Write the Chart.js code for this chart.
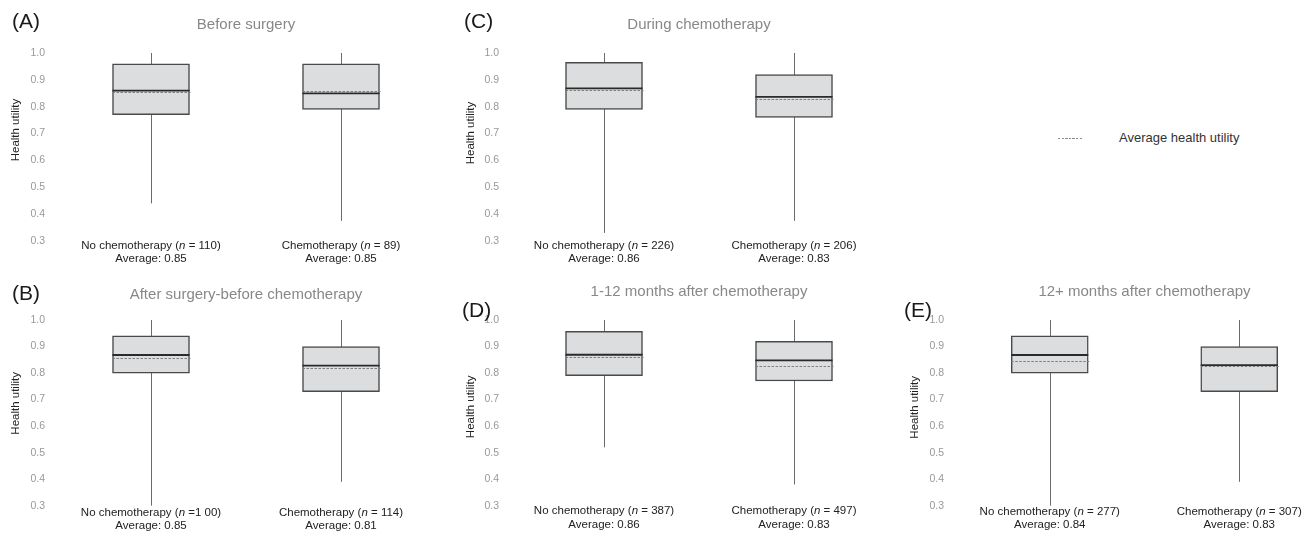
<!DOCTYPE html>
<html>
<head>
<meta charset="utf-8">
<script src="https://cdn.jsdelivr.net/npm/chart.js@4.4.0/dist/chart.umd.min.js"></script>
<style>
  html, body { margin: 0; padding: 0; overflow: hidden; background: #fff; }
  body { width: 1312px; height: 534px; position: relative; font-family: "Liberation Sans", Arial, sans-serif; }
  .panel { position: absolute; }
  .tag { position: absolute; font-size: 21px; line-height: 21px; color: #1a1a1a; }
  .legend { position: absolute; left: 1058px; top: 128px; height: 20px; }
  .legend .dash { position: absolute; left: 0; top: 10px; width: 25px; height: 1px;
    background: repeating-linear-gradient(90deg, #8c8c8c 0 2.5px, transparent 2.5px 3.6px); }
  .legend .txt { position: absolute; left: 61px; top: 2px; font-size: 13px; color: #333; white-space: nowrap; }
</style>
</head>
<body>
<div class="legend"><div class="dash"></div><div class="txt">Average health utility</div></div>
<script>
// data (panel order A..E)
const groupNames = ['No chemotherapy', 'Chemotherapy'];
const panelIds = ['A', 'B', 'C', 'D', 'E'];
const panelTitles = ['Before surgery', 'After surgery-before chemotherapy', 'During chemotherapy',
                     '1-12 months after chemotherapy', '12+ months after chemotherapy'];
const nText = [[' = 110', ' = 89'], [' =1 00', ' = 114'], [' = 226', ' = 206'], [' = 387', ' = 497'], [' = 277', ' = 307']];
const avgText = [['0.85', '0.85'], ['0.85', '0.81'], ['0.86', '0.83'], ['0.86', '0.83'], ['0.84', '0.83']];
const whiskerMax = [[1.0, 1.0], [1.0, 1.0], [1.0, 1.0], [1.0, 1.0], [1.0, 1.0]];
const boxQ3 = [[0.96, 0.96], [0.94, 0.90], [0.965, 0.92], [0.957, 0.92], [0.94, 0.90]];
const medians = [[0.86, 0.85], [0.868, 0.828], [0.868, 0.837], [0.869, 0.848], [0.868, 0.83]];
const means = [[0.855, 0.86], [0.856, 0.818], [0.862, 0.828], [0.86, 0.825], [0.845, 0.825]];
const boxQ1 = [[0.77, 0.79], [0.80, 0.73], [0.79, 0.76], [0.79, 0.77], [0.80, 0.73]];
const whiskerMin = [[0.44, 0.375], [0.30, 0.39], [0.33, 0.375], [0.52, 0.38], [0.30, 0.39]];
const yTicks = [0.3, 0.4, 0.5, 0.6, 0.7, 0.8, 0.9, 1.0];

// where each panel sits on the page
const frames = {
  A: { x: 0,   y: 0,   w: 440, h: 268, axisW: 56, padR: 4, tickPad: 11, tTop: 16, tBot: 19, padB: 27,   yTitleX: 15.5, yTitleDy: -17, lab: [5, 17.5], tag: [12, 10] },
  C: { x: 440, y: 0,   w: 452, h: 268, axisW: 69, padR: 3, tickPad: 10, tTop: 16, tBot: 19, padB: 27,   yTitleX: 31,   yTitleDy: -14, lab: [5, 17.5], tag: [464, 10] },
  B: { x: 0,   y: 268, w: 440, h: 266, axisW: 56, padR: 4, tickPad: 11, tTop: 18, tBot: 16, padB: 28.3, yTitleX: 15.5, yTitleDy: -9.5, lab: [7, 20], tag: [12, 282] },
  D: { x: 440, y: 268, w: 452, h: 266, axisW: 69, padR: 3, tickPad: 10, tTop: 15, tBot: 19, padB: 28.3, yTitleX: 31,   yTitleDy: -6,  lab: [5, 19], tag: [462, 299] },
  E: { x: 880, y: 268, w: 460, h: 266, axisW: 75, padR: 6, tickPad: 11, tTop: 15, tBot: 19, padB: 28.3, yTitleX: 35,   yTitleDy: -5.5, lab: [6, 19.5], tag: [904, 299] }
};

const FONT = '"Liberation Sans", Arial, sans-serif';

const boxPlot = {
  id: 'boxPlot',
  beforeDatasetsDraw(chart, args, o) {
    const p = o.panel, ctx = chart.ctx, x = chart.scales.x, y = chart.scales.y;
    ctx.save();
    ctx.strokeStyle = '#6a6a6a';
    ctx.lineWidth = 1;
    groupNames.forEach((g, i) => {
      const px = Math.round(x.getPixelForValue(i)) + 0.5;
      ctx.beginPath();
      ctx.moveTo(px, y.getPixelForValue(whiskerMax[p][i]));
      ctx.lineTo(px, y.getPixelForValue(whiskerMin[p][i]));
      ctx.stroke();
    });
    ctx.restore();
  },
  afterDatasetsDraw(chart, args, o) {
    const p = o.panel, ctx = chart.ctx, y = chart.scales.y;
    const bars = chart.getDatasetMeta(0).data;
    ctx.save();
    bars.forEach((bar, i) => {
      const l = bar.x - bar.width / 2, r = bar.x + bar.width / 2;
      ctx.setLineDash([]);
      ctx.strokeStyle = '#2a2a2a';
      ctx.lineWidth = 1.8;
      const ym = y.getPixelForValue(medians[p][i]);
      ctx.beginPath(); ctx.moveTo(l, ym); ctx.lineTo(r, ym); ctx.stroke();
      ctx.setLineDash([2.5, 1.5]);
      ctx.strokeStyle = '#7f7f7f';
      ctx.lineWidth = 1;
      const ya = Math.round(y.getPixelForValue(means[p][i])) + 0.5;
      ctx.beginPath(); ctx.moveTo(l, ya); ctx.lineTo(r + 1, ya); ctx.stroke();
    });
    ctx.restore();
  },
  afterDraw(chart, args, o) {
    const p = o.panel, f = o.frame, ctx = chart.ctx, x = chart.scales.x;
    const area = chart.chartArea;
    ctx.save();
    ctx.fillStyle = '#222';
    ctx.textBaseline = 'middle';
    const normal = '11.5px ' + FONT, italic = 'italic 11.5px ' + FONT;
    groupNames.forEach((g, i) => {
      const cx = x.getPixelForValue(i);
      const parts = [[g + ' (', normal], ['n', italic], [nText[p][i] + ')', normal]];
      let total = 0;
      parts.forEach(pt => { ctx.font = pt[1]; total += ctx.measureText(pt[0]).width; });
      let tx = cx - total / 2;
      ctx.textAlign = 'left';
      parts.forEach(pt => {
        ctx.font = pt[1];
        ctx.fillText(pt[0], tx, area.bottom + f.lab[0]);
        tx += ctx.measureText(pt[0]).width;
      });
      ctx.font = normal;
      ctx.textAlign = 'center';
      ctx.fillText('Average: ' + avgText[p][i], cx, area.bottom + f.lab[1]);
    });
    // y axis title
    ctx.font = '11.5px ' + FONT;
    ctx.textAlign = 'center';
    ctx.translate(f.yTitleX, (area.top + area.bottom) / 2 + f.yTitleDy);
    ctx.rotate(-Math.PI / 2);
    ctx.fillText('Health utility', 0, 0);
    ctx.restore();
  }
};

panelIds.forEach((id, p) => {
  const f = frames[id];
  const wrap = document.createElement('div');
  wrap.className = 'panel';
  wrap.style.left = f.x + 'px';
  wrap.style.top = f.y + 'px';
  const cv = document.createElement('canvas');
  cv.width = f.w;
  cv.height = f.h;
  wrap.appendChild(cv);
  document.body.appendChild(wrap);

  const tag = document.createElement('div');
  tag.className = 'tag';
  tag.textContent = '(' + id + ')';
  tag.style.left = f.tag[0] + 'px';
  tag.style.top = f.tag[1] + 'px';
  document.body.appendChild(tag);

  new Chart(cv, {
    type: 'bar',
    data: {
      labels: groupNames,
      datasets: [{
        data: groupNames.map((g, i) => [boxQ1[p][i], boxQ3[p][i]]),
        backgroundColor: '#dcdddf',
        borderColor: '#4a4a4a',
        borderWidth: 1.5,
        borderSkipped: false,
        barThickness: 77
      }]
    },
    options: {
      responsive: false,
      animation: false,
      layout: { padding: { left: 0, right: f.padR, top: 0, bottom: f.padB } },
      plugins: {
        legend: { display: false },
        tooltip: { enabled: false },
        title: {
          display: true, text: panelTitles[p], fullSize: false, color: '#888',
          font: { family: FONT, size: 15, weight: 'normal' },
          padding: { top: f.tTop, bottom: f.tBot }
        },
        boxPlot: { panel: p, frame: f }
      },
      scales: {
        x: { display: false },
        y: {
          min: 0.3, max: 1.0,
          afterBuildTicks: s => { s.ticks = yTicks.map(v => ({ value: v })); },
          afterFit: s => { s.width = f.axisW; },
          grid: { display: false, drawTicks: false },
          border: { display: false },
          ticks: { padding: f.tickPad, color: '#999', font: { family: FONT, size: 10.5 }, callback: v => v.toFixed(1) }
        }
      }
    },
    plugins: [boxPlot]
  });
});
</script>
</body>
</html>
